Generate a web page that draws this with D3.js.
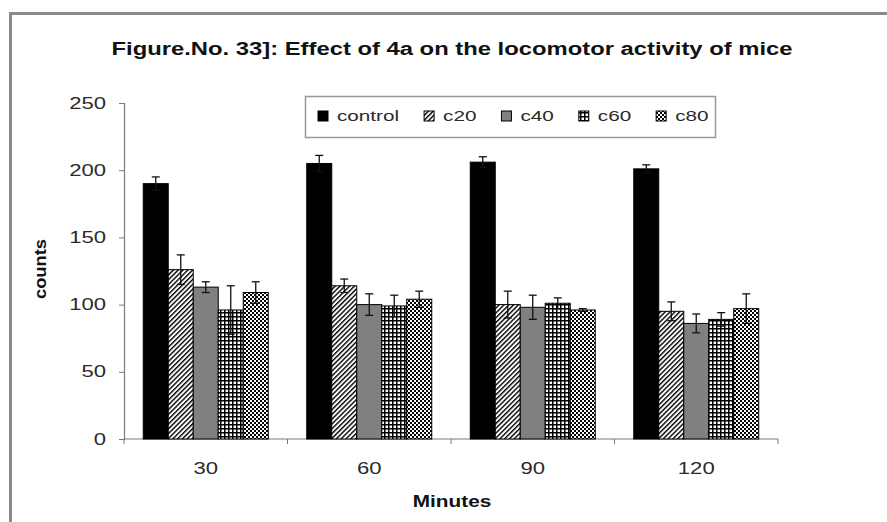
<!DOCTYPE html>
<html>
<head>
<meta charset="utf-8">
<script src="https://cdn.jsdelivr.net/npm/d3@7"></script>
<style>
  html, body { margin: 0; padding: 0; background: #fff; }
  svg { display: block; font-family: "Liberation Sans", Arial, sans-serif; }
</style>
</head>
<body>
<svg id="chart" width="887" height="522"></svg>
<script>
// data
const minutes = ['30', '60', '90', '120'];
const groups = ['control', 'c20', 'c40', 'c60', 'c80'];
const control = [190, 205, 206, 201];
const c20 = [126, 114, 100, 95];
const c40 = [113, 100, 98, 86];
const c60 = [96, 99, 101, 89];
const c80 = [109, 104, 96, 97];
const controlErr = [5, 6, 4, 3];
const c20Err = [11, 5, 10, 7];
const c40Err = [4, 8, 9, 7];
const c60Err = [18, 8, 4, 5];
const c80Err = [8, 6, 1, 11];
const yTicks = [0, 50, 100, 150, 200, 250];

const values = { control, c20, c40, c60, c80 };
const errors = { control: controlErr, c20: c20Err, c40: c40Err, c60: c60Err, c80: c80Err };

const width = 887;
const height = 522;
const margin = { top: 103, right: 109, bottom: 83, left: 124 };
const SX = 1.38; // the source picture is stretched sideways, text too

const svg = d3.select('#chart');

// fill patterns
const defs = svg.append('defs');

const hatch = defs.append('pattern')
  .attr('id', 'p-c20')
  .attr('patternUnits', 'userSpaceOnUse')
  .attr('width', 3.4).attr('height', 3.4)
  .attr('patternTransform', 'rotate(45)');
hatch.append('rect').attr('width', 3.4).attr('height', 3.4).attr('fill', '#fff');
hatch.append('rect').attr('width', 1.4).attr('height', 3.4).attr('fill', '#000');

const grid = defs.append('pattern')
  .attr('id', 'p-c60')
  .attr('patternUnits', 'userSpaceOnUse')
  .attr('width', 4).attr('height', 4);
grid.append('rect').attr('width', 4).attr('height', 4).attr('fill', '#fff');
grid.append('rect').attr('width', 4).attr('height', 1.5).attr('fill', '#000');
grid.append('rect').attr('width', 1.5).attr('height', 4).attr('fill', '#000');

const checks = defs.append('pattern')
  .attr('id', 'p-c80')
  .attr('patternUnits', 'userSpaceOnUse')
  .attr('width', 4).attr('height', 4);
checks.append('rect').attr('width', 4).attr('height', 4).attr('fill', '#fff');
checks.append('rect').attr('width', 2).attr('height', 2).attr('fill', '#000');
checks.append('rect').attr('x', 2).attr('y', 2).attr('width', 2).attr('height', 2).attr('fill', '#000');

const fills = {
  control: '#000',
  c20: 'url(#p-c20)',
  c40: '#808080',
  c60: 'url(#p-c60)',
  c80: 'url(#p-c80)',
};

// outer frame (cut off on the right and bottom in the source)
svg.append('rect')
  .attr('x', 10.5).attr('y', 13.5)
  .attr('width', width + 20).attr('height', height + 20)
  .attr('fill', 'none')
  .attr('stroke', '#8a8a8a')
  .attr('stroke-width', 3);

// stretched text helper
const label = (sel, x, y, txt, opts = {}) => {
  const t = sel.append('text')
    .attr('transform', `translate(${x},${y}) scale(${opts.sx || SX},1)`)
    .attr('text-anchor', opts.anchor || 'middle')
    .attr('font-size', opts.size || 15)
    .attr('font-weight', opts.weight || 'normal')
    .attr('fill', opts.fill || '#2a2a2a')
    .text(txt);
  return t;
};

// title, condensed face like the source
svg.append('text')
  .attr('x', 452).attr('y', 55)
  .attr('text-anchor', 'middle')
  .attr('font-family', '"Liberation Sans Narrow", "Liberation Sans", Arial, sans-serif')
  .attr('font-size', 18)
  .attr('font-weight', 'bold')
  .attr('fill', '#111')
  .attr('textLength', 681)
  .attr('lengthAdjust', 'spacingAndGlyphs')
  .text('Figure.No. 33]: Effect of 4a  on the locomotor activity of mice');

const x0 = d3.scaleBand()
  .domain(minutes)
  .range([margin.left, width - margin.right])
  .padding(0);

const x1 = d3.scaleBand()
  .domain(groups)
  .range([0, x0.bandwidth()])
  .paddingInner(0)
  .paddingOuter(0.77);

const y = d3.scaleLinear()
  .domain([0, 250])
  .range([height - margin.bottom, margin.top]);

const axisColor = '#7a7a7a';

// y axis
const yAxis = svg.append('g')
  .attr('transform', `translate(${margin.left},0)`)
  .call(d3.axisLeft(y).tickValues(yTicks).tickSize(5).tickFormat(''));
yAxis.select('.domain').attr('stroke', axisColor).attr('stroke-width', 1.2);
yAxis.selectAll('.tick line').attr('stroke', axisColor);
yTicks.forEach((v) => {
  label(svg, 106, y(v) + 5.5, String(v), { size: 16, anchor: 'end' });
});

// x axis: ticks sit on the category boundaries
const xBase = y(0);
svg.append('line')
  .attr('x1', margin.left).attr('x2', width - margin.right)
  .attr('y1', xBase).attr('y2', xBase)
  .attr('stroke', axisColor).attr('stroke-width', 1.2);
const bounds = minutes.map((m) => x0(m)).concat([x0(minutes[minutes.length - 1]) + x0.bandwidth()]);
svg.selectAll('line.xtick')
  .data(bounds)
  .enter()
  .append('line')
  .attr('class', 'xtick')
  .attr('x1', (d) => d).attr('x2', (d) => d)
  .attr('y1', xBase).attr('y2', xBase + 5)
  .attr('stroke', axisColor);
minutes.forEach((m) => {
  label(svg, x0(m) + x0.bandwidth() / 2, xBase + 35, m, { size: 16 });
});

// axis titles
label(svg, 452, 507, 'Minutes', { size: 16, weight: 'bold', fill: '#111', sx: 1.3 });
svg.append('text')
  .attr('transform', 'translate(46,269) rotate(-90)')
  .attr('text-anchor', 'middle')
  .attr('font-size', 16)
  .attr('font-weight', 'bold')
  .attr('fill', '#111')
  .attr('textLength', 60)
  .attr('lengthAdjust', 'spacingAndGlyphs')
  .text('counts');

// bars
const rows = [];
minutes.forEach((m, i) => {
  groups.forEach((g) => {
    rows.push({ minute: m, group: g, value: values[g][i], err: errors[g][i] });
  });
});

const plot = svg.append('g');

plot.selectAll('rect.bar')
  .data(rows)
  .enter()
  .append('rect')
  .attr('class', 'bar')
  .attr('x', (d) => x0(d.minute) + x1(d.group))
  .attr('y', (d) => y(d.value))
  .attr('width', x1.bandwidth())
  .attr('height', (d) => y(0) - y(d.value))
  .attr('fill', (d) => fills[d.group])
  .attr('stroke', '#000')
  .attr('stroke-width', 1);

// error bars
const cap = 4;
const err = plot.selectAll('g.err')
  .data(rows)
  .enter()
  .append('g')
  .attr('class', 'err')
  .attr('stroke', '#111')
  .attr('stroke-width', 1.3);
const cx = (d) => x0(d.minute) + x1(d.group) + x1.bandwidth() / 2;
err.append('line')
  .attr('x1', cx).attr('x2', cx)
  .attr('y1', (d) => y(d.value - d.err))
  .attr('y2', (d) => y(d.value + d.err));
err.append('line')
  .attr('x1', (d) => cx(d) - cap).attr('x2', (d) => cx(d) + cap)
  .attr('y1', (d) => y(d.value + d.err))
  .attr('y2', (d) => y(d.value + d.err));
err.append('line')
  .attr('x1', (d) => cx(d) - cap).attr('x2', (d) => cx(d) + cap)
  .attr('y1', (d) => y(d.value - d.err))
  .attr('y2', (d) => y(d.value - d.err));

// legend
const legend = svg.append('g');
legend.append('rect')
  .attr('x', 305.5).attr('y', 96.5)
  .attr('width', 410).attr('height', 41)
  .attr('fill', '#fff')
  .attr('stroke', '#999')
  .attr('stroke-width', 1.5);

let lx = 318;
groups.forEach((g) => {
  legend.append('rect')
    .attr('x', lx).attr('y', 111)
    .attr('width', 10).attr('height', 10)
    .attr('fill', fills[g])
    .attr('stroke', '#000');
  const t = label(legend, lx + 19, 121, g, { size: 15, anchor: 'start' });
  lx += 19 + t.node().getComputedTextLength() * SX + 25;
});
</script>
</body>
</html>
